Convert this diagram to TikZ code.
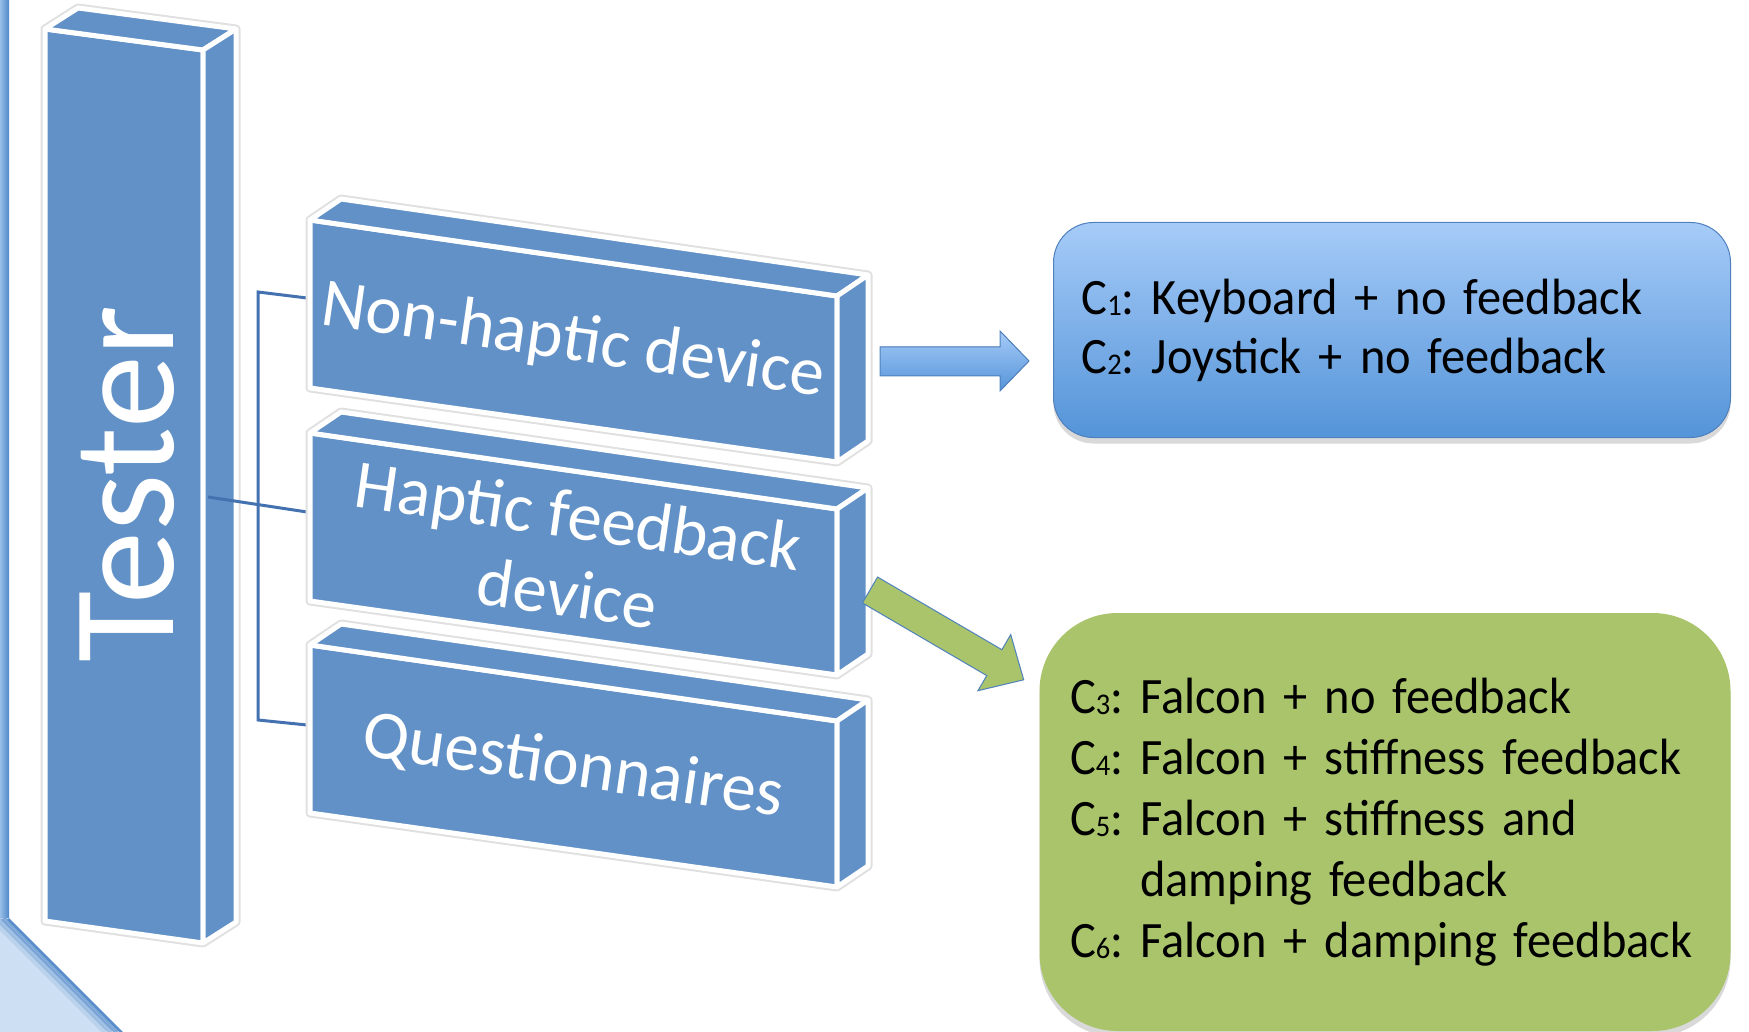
\documentclass[tikz,border=0pt]{standalone}
\usepackage{fontspec}
\setmainfont{Carlito}
\newfontfamily\condfont{Carlito}[FakeStretch=0.95]
\usetikzlibrary{shadows}

\definecolor{slabblue}{RGB}{97,145,199}
\definecolor{linkblue}{RGB}{68,114,176}
\definecolor{edgeblue}{RGB}{79,129,189}
\definecolor{boxtop}{RGB}{166,203,248}
\definecolor{boxbot}{RGB}{84,148,216}
\definecolor{setgreen}{RGB}{169,196,107}
\definecolor{decoA}{RGB}{150,190,230}
\definecolor{decoB}{RGB}{80,135,200}
\definecolor{decolight}{RGB}{205,224,243}

% small condition index, as in C1 ... C6
\newcommand{\cidx}[1]{{\fontsize{30}{30}\selectfont\raisebox{-1pt}{#1}}}

\begin{document}
\frenchspacing
\begin{tikzpicture}[x=1pt, y=-1pt,
    slab/.style={fill=slabblue, draw=white, line width=5pt, line join=round},
    rim/.style={draw=black!12, line width=9pt, line join=round},
    slabtext/.style={text=white, align=center, font=\fontsize{69}{78}\selectfont, rotate=-8.2},
    link/.style={draw=linkblue, line width=3pt},
    result/.style={rectangle, align=left, inner xsep=28pt, drop shadow={opacity=0.3, shadow xshift=0pt, shadow yshift=-6pt}},
    blockarrow/.style={draw=edgeblue, line width=1pt, line join=miter}
]
\useasboundingbox (0,0) rectangle (1749,1032);

% Slide decoration on the left
\fill[left color=decoA, right color=decoB] (0,0) rectangle (9,918);
\fill[decolight] (0,918) -- (9,918) -- (123,1032) -- (0,1032) -- cycle;
\begin{scope}
  \clip (0,918) -- (9,918) -- (123,1032) -- (0,1032) -- cycle;
  \draw[decoB, line width=5pt, opacity=0.9] (9,918) -- (123,1032);
  \draw[decoB, line width=5pt, opacity=0.6] (3,918) -- (117,1032);
  \draw[decoB, line width=5pt, opacity=0.35] (-3,918) -- (111,1032);
  \draw[decoB, line width=5pt, opacity=0.15] (-9,918) -- (105,1032);
\end{scope}

% Tester column
\draw[rim] (45,29) -- (78,8) -- (236,29) -- (236,922) -- (203,943) -- (45,921) -- cycle;
\filldraw[slab] (45,29) -- (203,50) -- (203,943) -- (45,921) -- cycle;
\filldraw[slab] (45,29) -- (78,8) -- (236,29) -- (203,50) -- cycle;
\filldraw[slab] (203,50) -- (236,29) -- (236,922) -- (203,943) -- cycle;
\node[text=white, font=\fontsize{146}{146}\selectfont, rotate=90] (tester) at (127,484) {Tester};

% Bracket from the tester to the three items
\coordinate (tapout) at (208,497);
\coordinate (railtop) at (258,292);
\coordinate (railbot) at (258,720);
\coordinate (nhin) at (307,298);
\coordinate (hfin) at (307,512);
\coordinate (qsin) at (307,725);
\draw[link] (nhin) -- (railtop) -- (railbot) -- (qsin);
\draw[link] (tapout) -- (hfin);

% Non-haptic device slab
\draw[rim] (310,220) -- (341,199) -- (868,275) -- (868,441) -- (837,462) -- (310,388) -- cycle;
\filldraw[slab] (310,220) -- (837,296) -- (837,462) -- (310,388) -- cycle;
\filldraw[slab] (310,220) -- (341,199) -- (868,275) -- (837,296) -- cycle;
\filldraw[slab] (837,296) -- (868,275) -- (868,441) -- (837,462) -- cycle;
\node[slabtext] (nonhaptic) at (573,342) {Non-haptic device};

% Haptic feedback device slab
\draw[rim] (310,433) -- (341,412) -- (868,488) -- (868,654) -- (837,675) -- (310,601) -- cycle;
\filldraw[slab] (310,433) -- (837,509) -- (837,675) -- (310,601) -- cycle;
\filldraw[slab] (310,433) -- (341,412) -- (868,488) -- (837,509) -- cycle;
\filldraw[slab] (837,509) -- (868,488) -- (868,654) -- (837,675) -- cycle;
\node[slabtext] (haptic) at (573,554) {Haptic feedback\\device};

% Questionnaires slab
\draw[rim] (310,645) -- (341,624) -- (868,700) -- (868,866) -- (837,887) -- (310,813) -- cycle;
\filldraw[slab] (310,645) -- (837,721) -- (837,887) -- (310,813) -- cycle;
\filldraw[slab] (310,645) -- (341,624) -- (868,700) -- (837,721) -- cycle;
\filldraw[slab] (837,721) -- (868,700) -- (868,866) -- (837,887) -- cycle;
\node[slabtext] (quest) at (573,767) {Questionnaires};

% Block arrows to the conditions
\filldraw[blockarrow, top color=boxtop, bottom color=boxbot]
  (880,347) -- (1000,347) -- (1000,331) -- (1029,361) -- (1000,391) -- (1000,376) -- (880,376) -- cycle;
\begin{scope}[shift={(870,590)}, rotate=-30.3]
  \filldraw[blockarrow, fill=setgreen]
    (0,-15) -- (144,-15) -- (144,-32.5) -- (178,0) -- (144,32.5) -- (144,15) -- (0,15) -- cycle;
\end{scope}

% Conditions
\node[result, rounded corners=40pt, draw=edgeblue, line width=1pt, top color=boxtop, bottom color=boxbot,
      minimum height=215pt, text width=621pt, font=\condfont\fontsize{51}{59}\selectfont] (nonhapticset) at (1392,330)
  {C\cidx{1}: Keyboard + no feedback\\C\cidx{2}: Joystick + no feedback};
\node[result, rounded corners=78pt, fill=setgreen, inner xsep=30.5pt,
      minimum height=418pt, text width=630pt, font=\condfont\fontsize{51}{61}\selectfont] (hapticset) at (1385,822)
  {C\cidx{3}: Falcon + no feedback\\
   C\cidx{4}: Falcon + stiffness feedback\\
   C\cidx{5}: Falcon + stiffness and\\
   \phantom{C\cidx{5}:~}damping feedback\\
   C\cidx{6}: Falcon + damping feedback};

\end{tikzpicture}
\end{document}
